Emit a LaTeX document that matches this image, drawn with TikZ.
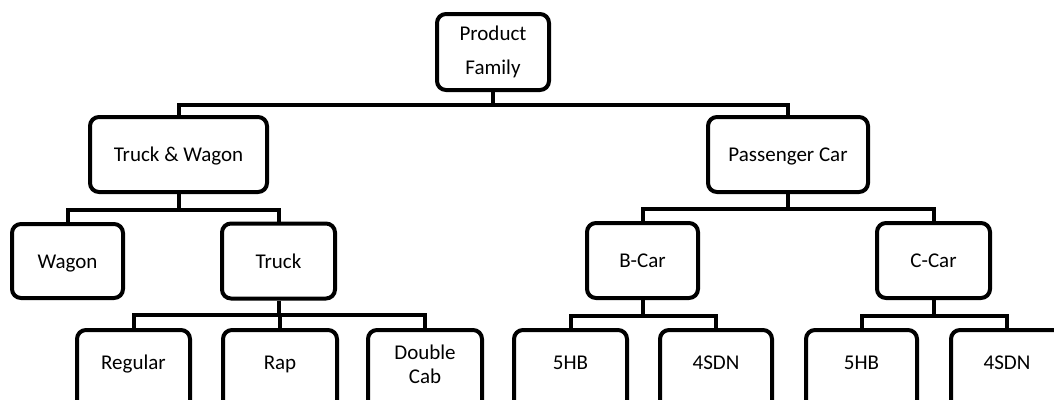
\documentclass[tikz,border=0pt]{standalone}
\usepackage{fontspec}
\setmainfont{Carlito}
\begin{document}
\begin{tikzpicture}[x=1pt,y=-1pt,
  box/.style={draw=black,line width=4pt,rounded corners=9pt,fill=white,inner sep=0pt},
  txt/.style={font=\fontsize{21}{24}\selectfont,text=black,align=center,inner sep=0pt},
  sl/.style={txt,text height=16pt,text depth=2pt},
  conn/.style={draw=black,line width=4pt}]
\useasboundingbox (0,0) rectangle (1054,399);
\clip (0,0) rectangle (1054,399);
% level 0
\node[box,txt,minimum width=112pt,minimum height=76pt,font=\fontsize{21}{34}\selectfont] (pf) at (493,52) {Product\\Family};
% level 1
\node[box,sl,minimum width=177pt,minimum height=75pt] (tw) at (178.5,154.5) {Truck \& Wagon};
\node[box,sl,minimum width=160pt,minimum height=75pt] (pc) at (788,154.5) {Passenger Car};
% level 2
\node[box,sl,minimum width=111pt,minimum height=74pt] (wg) at (67.5,261) {Wagon};
\node[box,sl,minimum width=113pt,minimum height=75pt] (tr) at (278.5,261) {Truck};
\node[box,sl,minimum width=111pt,minimum height=75pt] (bc) at (642.5,260.5) {B-Car};
\node[box,sl,minimum width=113pt,minimum height=75pt] (cc) at (933.5,260.5) {C-Car};
% level 3 boxes (cut by bottom edge)
\node[box,minimum width=113pt,minimum height=90pt,anchor=north] (rg) at (133.5,328) {};
\node[box,minimum width=114pt,minimum height=90pt,anchor=north] (rp) at (280,328) {};
\node[box,minimum width=114pt,minimum height=90pt,anchor=north] (dc) at (425,328) {};
\node[box,minimum width=113pt,minimum height=90pt,anchor=north] (hb1) at (570.5,328) {};
\node[box,minimum width=112pt,minimum height=90pt,anchor=north] (sd1) at (716,328) {};
\node[box,minimum width=111pt,minimum height=90pt,anchor=north] (hb2) at (861.5,328) {};
\node[box,minimum width=112pt,minimum height=90pt,anchor=north] (sd2) at (1007,328) {};
% level 3 texts
\node[sl] (rgt) at (133.5,362) {Regular};
\node[sl] (rpt) at (280,362) {Rap};
\node[txt] (dct) at (425,364) {Double\\Cab};
\node[sl] (hb1t) at (570.5,362) {5HB};
\node[sl] (sd1t) at (716,362) {4SDN};
\node[sl] (hb2t) at (861.5,362) {5HB};
\node[sl] (sd2t) at (1007,362) {4SDN};
% connectors
\draw[conn] (pf.south) -- ++(0,13) coordinate (b0);
\draw[conn] (tw.north) |- (b0) -| (pc.north);
\draw[conn] (tw.south) -- ++(0,16) coordinate (b1);
\draw[conn] (wg.north) |- (b1) -| (tr.north);
\draw[conn] (tr.south) -- ++(0,14) coordinate (b2);
\draw[conn] (rg.north) |- (b2) -| (dc.north);
\draw[conn] (rp.north) -- (rp.north |- b2);
\draw[conn] (pc.south) -- ++(0,15) coordinate (b3);
\draw[conn] (bc.north) |- (b3) -| (cc.north);
\draw[conn] (bc.south) -- ++(0,16) coordinate (b4);
\draw[conn] (hb1.north) |- (b4) -| (sd1.north);
\draw[conn] (cc.south) -- ++(0,16) coordinate (b5);
\draw[conn] (hb2.north) |- (b5) -| (sd2.north);
\end{tikzpicture}
\end{document}
